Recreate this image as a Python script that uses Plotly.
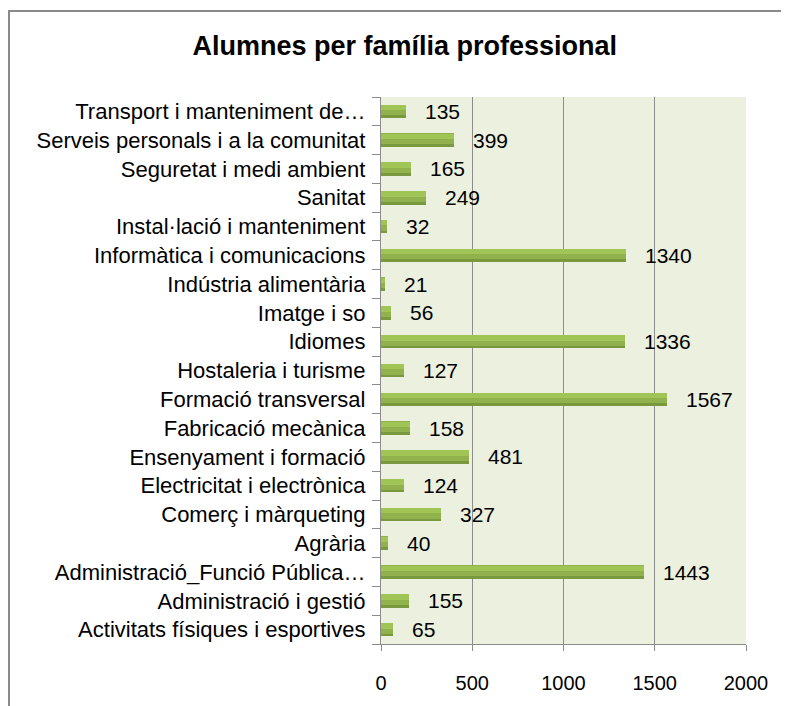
import plotly.graph_objects as go

categories = [
    "Activitats físiques i esportives",
    "Administració i gestió",
    "Administració_Funció Pública…",
    "Agrària",
    "Comerç i màrqueting",
    "Electricitat i electrònica",
    "Ensenyament i formació",
    "Fabricació mecànica",
    "Formació transversal",
    "Hostaleria i turisme",
    "Idiomes",
    "Imatge i so",
    "Indústria alimentària",
    "Informàtica i comunicacions",
    "Instal·lació i manteniment",
    "Sanitat",
    "Seguretat i medi ambient",
    "Serveis personals i a la comunitat",
    "Transport i manteniment de…",
]
values = [65, 155, 1443, 40, 327, 124, 481, 158, 1567, 127, 1336, 56, 21, 1340, 32, 249, 165, 399, 135]
x_ticks = [0, 500, 1000, 1500, 2000]
title_text = "Alumnes per família professional"

FONT = "Liberation Sans, Arial, sans-serif"
BW = 0.47

fig = go.Figure()
# base bar
fig.add_trace(go.Bar(y=categories, x=values, orientation="h", width=BW,
                     marker=dict(color="#90B14B", line=dict(width=0)),
                     hoverinfo="x+y", showlegend=False))
# lighter top stripe
fig.add_trace(go.Bar(y=categories, x=values, orientation="h", width=BW * 0.4,
                     offset=BW * 0.08,
                     marker=dict(color="#A0C455", line=dict(width=0)),
                     hoverinfo="skip", showlegend=False))
# darker bottom stripe
fig.add_trace(go.Bar(y=categories, x=values, orientation="h", width=BW * 0.2,
                     offset=-BW / 2,
                     marker=dict(color="#7A983E", line=dict(width=0)),
                     hoverinfo="skip", showlegend=False))

for c, v in zip(categories, values):
    fig.add_annotation(x=v, y=c, text=str(v), showarrow=False, xanchor="left",
                       xshift=17, yshift=0,
                       font=dict(family=FONT, size=21, color="#000000"))

# outer frame lines (left and top)
fig.add_shape(type="line", xref="paper", yref="paper", xsizemode="pixel", ysizemode="pixel",
              xanchor=0, yanchor=1, x0=-372, x1=-372, y0=86, y1=-700,
              line=dict(color="#8a8a8a", width=2))
fig.add_shape(type="line", xref="paper", yref="paper", xsizemode="pixel", ysizemode="pixel",
              xanchor=0, yanchor=1, x0=-373, x1=420, y0=86, y1=86,
              line=dict(color="#8a8a8a", width=2))

fig.update_layout(
    width=781, height=698,
    margin=dict(l=373, r=43, t=89, b=50),
    paper_bgcolor="#ffffff",
    plot_bgcolor="#EBF1DE",
    barmode="overlay",
    bargap=0,
    title=dict(text="<b>" + title_text + "</b>", x=0.508, xanchor="center",
               y=1 - 38 / 698, yanchor="middle",
               font=dict(family=FONT, size=27, color="#000000")),
    font=dict(family=FONT, size=21, color="#000000"),
    xaxis=dict(range=[0, 2000], tickvals=x_ticks, ticktext=[str(t) for t in x_ticks],
               showgrid=True, gridcolor="#8c8c8c", gridwidth=1.3,
               showline=True, linecolor="#8c8c8c", linewidth=1.3,
               ticks="outside", ticklen=6, tickcolor="#8c8c8c", tickwidth=1.3,
               ticklabelstandoff=15, zeroline=False,
               tickfont=dict(family=FONT, size=20, color="#000000")),
    yaxis=dict(type="category", categoryorder="array", categoryarray=categories,
               showgrid=False, showline=True, linecolor="#8c8c8c", linewidth=1.3,
               ticks="outside", ticklen=8, tickcolor="#8c8c8c", tickwidth=1.3,
               tickson="boundaries", ticklabelstandoff=10,
               tickfont=dict(family=FONT, size=22, color="#000000")),
)

fig.write_html("out.html")
